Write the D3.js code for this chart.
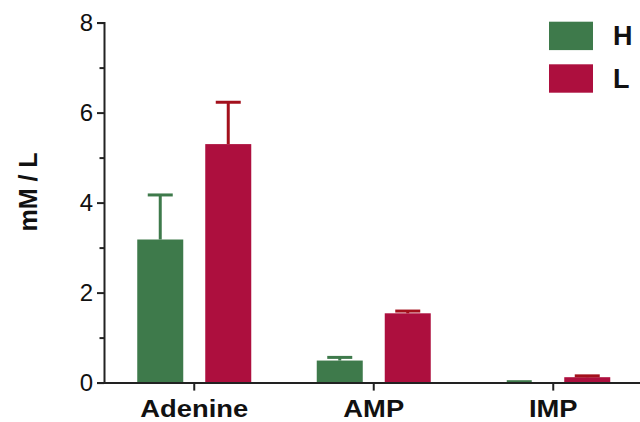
<!DOCTYPE html>
<html>
<head>
<meta charset="utf-8">
<script src="https://cdn.jsdelivr.net/npm/d3@7"></script>
<style>
  html, body { margin: 0; padding: 0; background: #fff; }
  svg { display: block; font-family: "Liberation Sans", Arial, Helvetica, sans-serif; }
</style>
</head>
<body>
<svg id="chart" width="640" height="422"></svg>
<script>
// Metabolite concentrations (mean and upper error) for groups H and L
const categories = ["Adenine", "AMP", "IMP"];
const groups = ["H", "L"];
const meanH = [3.18, 0.49, 0.01];
const meanL = [5.30, 1.54, 0.12];
const errH = [0.99, 0.07, 0.01];
const errL = [0.93, 0.05, 0.03];
const yTicks = [0, 2, 4, 6, 8];
const yMinorTicks = [1, 3, 5, 7];

const fills = { H: "#3e7a4b", L: "#ad0f3e" };
const errColors = { H: "#3e7a4b", L: "#a3101c" };

const rows = categories.map((c, i) => ({
  category: c,
  values: [
    { group: "H", mean: meanH[i], err: errH[i] },
    { group: "L", mean: meanL[i], err: errL[i] }
  ]
}));

const svg = d3.select("#chart");

const x = d3.scaleBand().domain(categories).range([104.5, 643]).padding(0);
const xSub = d3.scaleBand().domain(groups).range([-57, 57]).paddingInner(0.3235).paddingOuter(0);
const y = d3.scaleLinear().domain([0, 8]).range([382.6, 22.6]);

// Bars
const cat = svg.append("g").selectAll("g")
  .data(rows)
  .join("g")
  .attr("transform", d => `translate(${x(d.category) + x.bandwidth() / 2},0)`);

cat.selectAll("rect")
  .data(d => d.values)
  .join("rect")
  .attr("x", d => xSub(d.group))
  .attr("width", xSub.bandwidth())
  .attr("y", d => y(d.mean))
  .attr("height", d => y(0) - y(d.mean))
  .attr("fill", d => fills[d.group]);

// Upper error bars with caps
const eb = cat.selectAll("g.err")
  .data(d => d.values)
  .join("g")
  .attr("class", "err")
  .attr("stroke", d => errColors[d.group])
  .attr("stroke-width", 3);

eb.append("line")
  .attr("x1", d => xSub(d.group) + xSub.bandwidth() / 2)
  .attr("x2", d => xSub(d.group) + xSub.bandwidth() / 2)
  .attr("y1", d => y(d.mean))
  .attr("y2", d => y(d.mean + d.err));

eb.append("line")
  .attr("x1", d => xSub(d.group) + xSub.bandwidth() / 2 - 12.5)
  .attr("x2", d => xSub(d.group) + xSub.bandwidth() / 2 + 12.5)
  .attr("y1", d => y(d.mean + d.err))
  .attr("y2", d => y(d.mean + d.err));

// Y axis
const yAxis = svg.append("g")
  .attr("transform", "translate(104,0)")
  .call(d3.axisLeft(y).tickValues(yTicks).tickSize(7).tickPadding(4).tickFormat(d3.format("d")));
yAxis.select(".domain").attr("stroke", "#222").attr("stroke-width", 2);
yAxis.selectAll(".tick line").attr("stroke", "#222").attr("stroke-width", 2);
yAxis.selectAll(".tick text")
  .attr("font-size", 24)
  .attr("fill", "#111")
  .attr("font-family", "Liberation Sans, Arial, sans-serif");

const yMinor = svg.append("g")
  .attr("transform", "translate(104,0)")
  .call(d3.axisLeft(y).tickValues(yMinorTicks).tickSize(4.5).tickFormat(""));
yMinor.select(".domain").remove();
yMinor.selectAll(".tick line").attr("stroke", "#222").attr("stroke-width", 2);

// X axis
const xAxis = svg.append("g")
  .attr("transform", `translate(0,${y(0)})`)
  .call(d3.axisBottom(x).tickSize(8).tickSizeOuter(0).tickPadding(9));
xAxis.select(".domain").attr("stroke", "#222").attr("stroke-width", 2);
xAxis.selectAll(".tick line").attr("stroke", "#222").attr("stroke-width", 2);
xAxis.selectAll(".tick text")
  .attr("font-size", 24)
  .attr("font-weight", "bold")
  .attr("fill", "#111")
  .attr("transform", "scale(1.14,1)")
  .attr("font-family", "Liberation Sans, Arial, sans-serif");

// Y axis title
svg.append("text")
  .attr("transform", "translate(36.5,192) rotate(-90)")
  .attr("text-anchor", "middle")
  .attr("font-size", 25)
  .attr("font-weight", "bold")
  .attr("fill", "#111")
  .text("mM / L");

// Legend
const legend = svg.append("g").selectAll("g")
  .data(groups)
  .join("g")
  .attr("transform", (d, i) => `translate(549,${21.7 + i * 42.6})`);
legend.append("rect")
  .attr("width", 44)
  .attr("height", 28.4)
  .attr("fill", d => fills[d]);
legend.append("text")
  .attr("x", 64)
  .attr("y", 23.5)
  .attr("font-size", 27)
  .attr("font-weight", "bold")
  .attr("fill", "#111")
  .text(d => d);
</script>
</body>
</html>
